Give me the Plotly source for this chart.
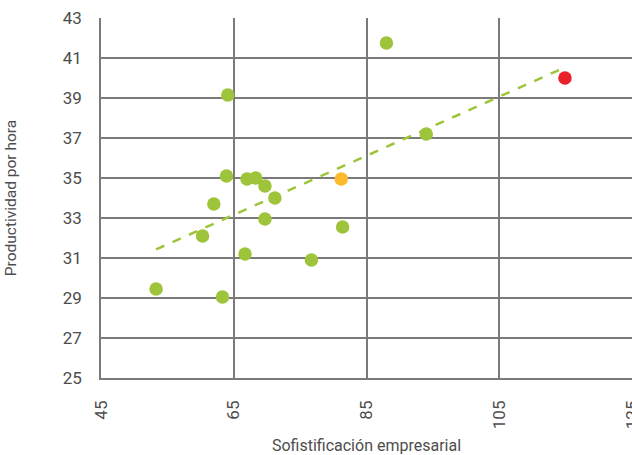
import plotly.graph_objects as go

# Data
green_x = [53.3, 60.3, 62.0, 63.3, 63.9, 64.1, 66.7, 67.0, 68.3, 69.7, 69.7, 71.2, 76.7, 81.4, 88.0, 94.0]
green_y = [29.45, 32.1, 33.7, 29.05, 35.1, 39.15, 31.2, 34.95, 35.0, 34.6, 32.95, 34.0, 30.9, 32.55, 41.75, 37.2]
orange_x = [81.2]
orange_y = [34.95]
red_x = [114.9]
red_y = [40.0]
trend_x = [53.3, 114.7]
trend_y = [31.43, 40.5]

x_ticks = [45, 65, 85, 105, 125]
y_ticks = [25, 27, 29, 31, 33, 35, 37, 39, 41, 43]

GREEN = "#9DC43A"
ORANGE = "#FDB92C"
RED = "#E8212B"
GRID = "#7a7a7a"
TEXT = "#4d4d4d"

fig = go.Figure()
fig.add_trace(go.Scatter(x=trend_x, y=trend_y, mode="lines",
                         line=dict(color=GREEN, width=2.5, dash="dash"),
                         hoverinfo="skip"))
fig.add_trace(go.Scatter(x=green_x, y=green_y, mode="markers",
                         marker=dict(color=GREEN, size=13.5, line=dict(width=0))))
fig.add_trace(go.Scatter(x=orange_x, y=orange_y, mode="markers",
                         marker=dict(color=ORANGE, size=13.5, line=dict(width=0))))
fig.add_trace(go.Scatter(x=red_x, y=red_y, mode="markers",
                         marker=dict(color=RED, size=13.5, line=dict(width=0))))

fig.update_layout(
    width=632, height=455,
    margin=dict(l=101, r=0, t=18, b=77, autoexpand=False),
    paper_bgcolor="white", plot_bgcolor="white",
    showlegend=False,
    font=dict(family="Roboto", color=TEXT),
    xaxis=dict(range=[45, 125], tickvals=x_ticks, ticktext=[str(v) for v in x_ticks],
               tickangle=-90, showgrid=True, gridcolor=GRID, gridwidth=1.5,
               zeroline=False, showline=True, linecolor=GRID, linewidth=1.5,
               automargin=False, ticklabeloverflow="allow",
               ticks="", tickfont=dict(size=17, color=TEXT), ticklabelstandoff=14,
               title=dict(text="Sofistificación empresarial", font=dict(size=16, color=TEXT), standoff=12)),
    yaxis=dict(range=[25, 43], tickvals=y_ticks, ticktext=[str(v) for v in y_ticks],
               showgrid=True, gridcolor=GRID, gridwidth=1.5,
               zeroline=False, showline=True, linecolor=GRID, linewidth=1.5,
               automargin=False,
               ticks="", tickfont=dict(size=17, color=TEXT), ticklabelstandoff=14,
               title=dict(text="Productividad por hora", font=dict(size=15.5, color=TEXT), standoff=42)),
)

fig.write_html("out.html", config={"displayModeBar": False},
               post_script="document.body.style.margin='0';")
